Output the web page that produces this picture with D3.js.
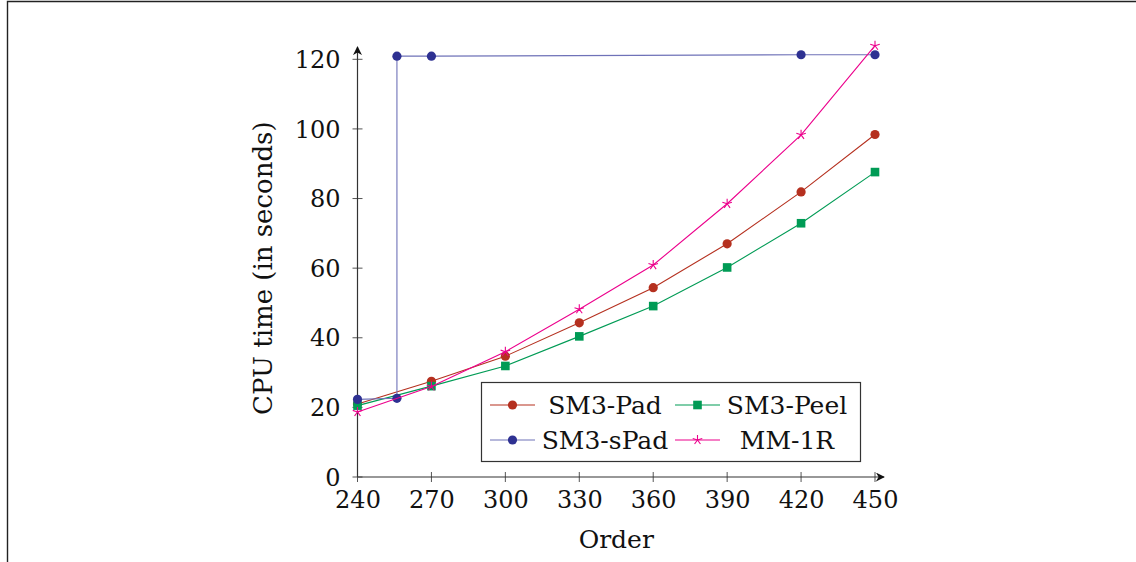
<!DOCTYPE html>
<html>
<head>
<meta charset="utf-8">
<script src="https://cdn.jsdelivr.net/npm/d3@7"></script>
<style>
  body { margin: 0; background: #fff; }
</style>
</head>
<body>
<script>
// data
var xTicks = [240, 270, 300, 330, 360, 390, 420, 450];
var yTicks = [0, 20, 40, 60, 80, 100, 120];

var padOrder = [240, 270, 300, 330, 360, 390, 420, 450];
var padTime  = [21.0, 27.5, 34.7, 44.3, 54.4, 67.0, 81.9, 98.4];

var peelOrder = [240, 270, 300, 330, 360, 390, 420, 450];
var peelTime  = [20.5, 26.1, 31.9, 40.4, 49.1, 60.2, 72.9, 87.6];

var spadOrder = [240, 256, 256, 270, 420, 450];
var spadTime  = [22.3, 22.6, 120.9, 120.9, 121.3, 121.3];

var mmOrder = [240, 270, 300, 330, 360, 390, 420, 450];
var mmTime  = [18.7, 26.0, 36.0, 48.2, 60.9, 78.5, 98.3, 123.9];

var names  = ["SM3-Pad", "SM3-Peel", "SM3-sPad", "MM-1R"];
var colors = ["#b5301f", "#009b55", "#2e3192", "#ec008c"];
var lineColors = ["#b5301f", "#009b55", "#6f72b8", "#ec008c"];
var markers = ["circle", "square", "circle", "star"];

var FONT = "'DejaVu Serif', 'Liberation Serif', 'Times New Roman', serif";

function zip(xs, ys) { return xs.map(function(x, i) { return {x: x, y: ys[i]}; }); }
var series = [zip(padOrder, padTime), zip(peelOrder, peelTime), zip(spadOrder, spadTime), zip(mmOrder, mmTime)];

var W = 1136, H = 562;

var x = d3.scaleLinear().domain([240, 450]).range([357.5, 875]);
var y = d3.scaleLinear().domain([0, 120]).range([477, 59.3]);

var svg = d3.select("body").append("svg")
    .attr("width", W)
    .attr("height", H)
    .style("font-family", FONT);

// page frame (only top and left edges show)
svg.append("path")
    .attr("d", "M7.5," + H + "V1.5H" + W)
    .attr("fill", "none")
    .attr("stroke", "#222")
    .attr("stroke-width", 1.4);

var xAxis = d3.axisBottom(x).tickValues(xTicks).tickSize(0).tickPadding(17);
var yAxis = d3.axisLeft(y).tickValues(yTicks).tickSize(0).tickPadding(17);

var gx = svg.append("g")
    .attr("transform", "translate(0," + y(0) + ")")
    .call(xAxis);
gx.select(".domain").remove();
gx.selectAll("text")
    .style("font-family", FONT)
    .attr("font-size", 24)
    .attr("fill", "#111")
    .attr("dy", "0.6em");

var gy = svg.append("g")
    .attr("transform", "translate(" + x(240) + ",0)")
    .call(yAxis);
gy.select(".domain").remove();
gy.selectAll("text")
    .style("font-family", FONT)
    .attr("font-size", 24)
    .attr("fill", "#111")
    .attr("dy", "0.34em");

// tick marks crossing the axis lines
svg.append("g").selectAll("line")
    .data(xTicks)
  .enter().append("line")
    .attr("x1", function(d) { return x(d); })
    .attr("x2", function(d) { return x(d); })
    .attr("y1", y(0) - 5)
    .attr("y2", y(0) + 5)
    .attr("stroke", "#555")
    .attr("stroke-width", 1);

svg.append("g").selectAll("line")
    .data(yTicks)
  .enter().append("line")
    .attr("x1", x(240) - 5)
    .attr("x2", x(240) + 5)
    .attr("y1", function(d) { return y(d); })
    .attr("y2", function(d) { return y(d); })
    .attr("stroke", "#555")
    .attr("stroke-width", 1);

// axis lines with arrow heads
svg.append("defs").append("marker")
    .attr("id", "arrow")
    .attr("viewBox", "0 0 10 10")
    .attr("refX", 9).attr("refY", 5)
    .attr("markerWidth", 9).attr("markerHeight", 9)
    .attr("markerUnits", "userSpaceOnUse")
    .attr("orient", "auto")
  .append("path")
    .attr("d", "M0,0 L10,5 L0,10 L3,5 Z")
    .attr("fill", "#111");

svg.append("line")
    .attr("x1", x(240)).attr("x2", x(240))
    .attr("y1", y(0)).attr("y2", 47)
    .attr("stroke", "#333").attr("stroke-width", 1.2)
    .attr("marker-end", "url(#arrow)");

svg.append("line")
    .attr("x1", x(240)).attr("x2", 884)
    .attr("y1", y(0)).attr("y2", y(0))
    .attr("stroke", "#333").attr("stroke-width", 1.2)
    .attr("marker-end", "url(#arrow)");

// axis titles
svg.append("text")
    .attr("x", (x(240) + x(450)) / 2)
    .attr("y", 548)
    .attr("text-anchor", "middle")
    .attr("font-size", 25)
    .attr("fill", "#111")
    .text("Order");

svg.append("text")
    .attr("transform", "translate(272," + (y(0) + y(120)) / 2 + ") rotate(-90)")
    .attr("text-anchor", "middle")
    .attr("font-size", 26)
    .attr("fill", "#111")
    .text("CPU time (in seconds)");

// marker drawing
function starPath(r) {
  var p = "";
  for (var k = 0; k < 5; k++) {
    var a = -Math.PI / 2 + k * 2 * Math.PI / 5;
    p += "M0,0L" + (r * Math.cos(a)).toFixed(2) + "," + (r * Math.sin(a)).toFixed(2);
  }
  return p;
}

function drawMarker(g, kind, color) {
  if (kind === "circle") {
    g.append("circle").attr("r", 4.6).attr("fill", color);
  } else if (kind === "square") {
    g.append("rect").attr("x", -4.3).attr("y", -4.3).attr("width", 8.6).attr("height", 8.6).attr("fill", color);
  } else {
    g.append("path").attr("d", starPath(5)).attr("stroke", color).attr("stroke-width", 1.1).attr("fill", "none");
  }
}

var line = d3.line()
    .x(function(d) { return x(d.x); })
    .y(function(d) { return y(d.y); });

series.forEach(function(s, i) {
  var g = svg.append("g").attr("class", "series");
  g.append("path")
      .datum(s)
      .attr("d", line)
      .attr("fill", "none")
      .attr("stroke", lineColors[i])
      .attr("stroke-width", 1.1);
  g.selectAll("g.pt")
      .data(s)
    .enter().append("g")
      .attr("class", "pt")
      .attr("transform", function(d) { return "translate(" + x(d.x) + "," + y(d.y) + ")"; })
      .each(function() { drawMarker(d3.select(this), markers[i], colors[i]); });
});

// legend
var legend = svg.append("g");
legend.append("rect")
    .attr("x", 481.5).attr("y", 382.5)
    .attr("width", 379).attr("height", 79)
    .attr("fill", "#fff")
    .attr("stroke", "#333")
    .attr("stroke-width", 1.2);

var colX = [490, 675];
var colText = [605, 787];
var rowY = [405, 440];
names.forEach(function(name, i) {
  var c = i % 2, r = Math.floor(i / 2);
  var g = legend.append("g");
  g.append("line")
      .attr("x1", colX[c]).attr("x2", colX[c] + 45)
      .attr("y1", rowY[r]).attr("y2", rowY[r])
      .attr("stroke", lineColors[i]).attr("stroke-width", 1.1);
  var m = g.append("g").attr("transform", "translate(" + (colX[c] + 22.5) + "," + rowY[r] + ")");
  drawMarker(m, markers[i], colors[i]);
  g.append("text")
      .attr("x", colText[c])
      .attr("y", rowY[r])
      .attr("dy", "0.36em")
      .attr("text-anchor", "middle")
      .attr("font-size", 25)
      .attr("fill", "#111")
      .text(name);
});
</script>
</body>
</html>
